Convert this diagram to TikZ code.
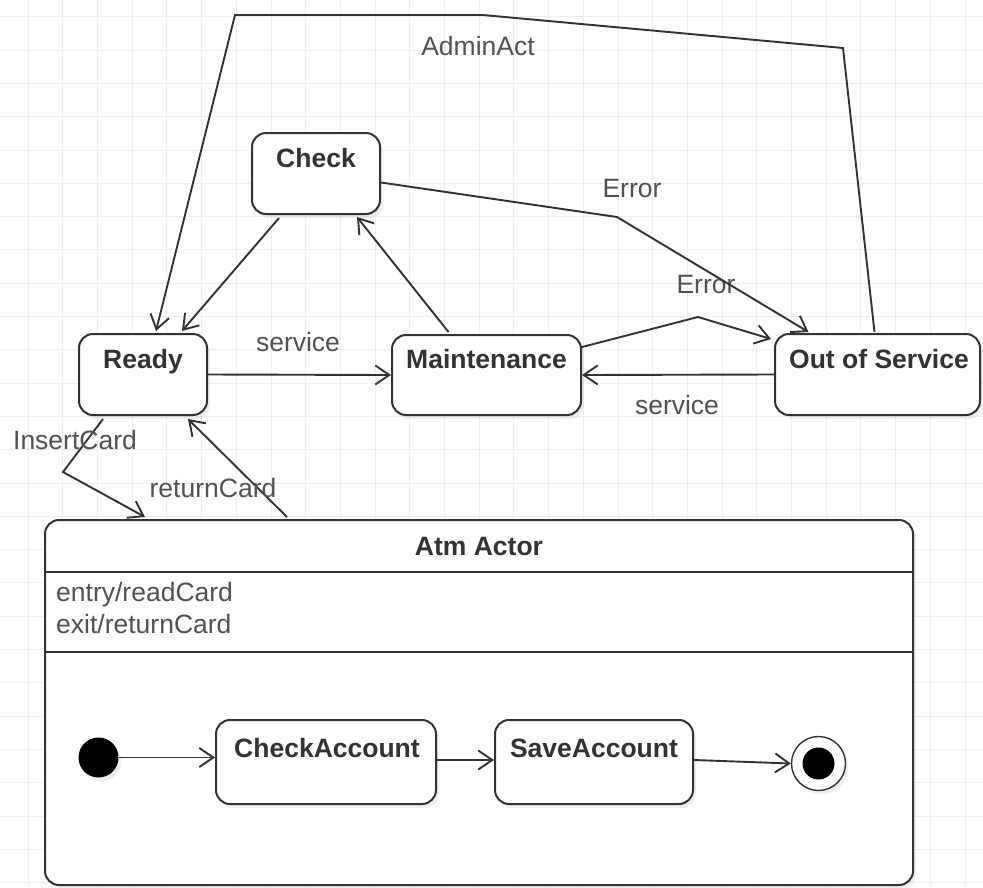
\documentclass[tikz,border=0pt]{standalone}
\usepackage{fontspec}
\setmainfont{Liberation Sans}
\usetikzlibrary{arrows.meta,shadows,calc}
\definecolor{ln}{HTML}{333333}
\definecolor{gridc}{HTML}{EFEFEF}
\begin{document}
\begin{tikzpicture}[x=1pt,y=-1pt,
  statebox/.style={draw=ln, line width=2pt, rounded corners=14pt, fill=white,
    drop shadow={shadow xshift=3pt,shadow yshift=-4pt,opacity=0.12}, inner sep=0pt},
  ttl/.style={font=\fontsize{26.5}{30}\selectfont\bfseries, text=ln, anchor=base, inner sep=0pt},
  lbl/.style={font=\fontsize{26.5}{30}\selectfont, text=ln!85, inner sep=0pt},
  tr/.style={draw=ln, line width=1.9pt, -{Straight Barb[length=14pt,width=19pt]}},
]
\useasboundingbox (0,0) rectangle (983,887);
\fill[white] (0,0) rectangle (983,887);
% grid
\foreach \i in {0,...,27} \draw[gridc, line width=0.8pt] (28+34.7*\i,0) -- (28+34.7*\i,887);
\foreach \j in {0,...,26} \draw[gridc, line width=0.8pt] (0,16.7+33.3*\j) -- (983,16.7+33.3*\j);

% states
\node[statebox, minimum width=128pt, minimum height=81pt] (check) at (316,173.5) {};
\node[ttl] (checkT) at (316,167) {Check};
\node[statebox, minimum width=128pt, minimum height=81pt] (ready) at (143,374.5) {};
\node[ttl] (readyT) at (143,368) {Ready};
\node[statebox, minimum width=189pt, minimum height=80pt] (maint) at (486.5,375) {};
\node[ttl] (maintT) at (486.5,368) {Maintenance};
\node[statebox, minimum width=205pt, minimum height=81pt] (oos) at (877.5,374.5) {};
\node[ttl] (oosT) at (879,368) {Out of Service};

% composite state
\node[statebox, minimum width=868pt, minimum height=365pt] (atm) at (479,702.5) {};
\node[ttl] (atmT) at (479,555) {Atm Actor};
\draw[draw=ln, line width=2pt] (atm.west |- 0,572) -- (atm.east |- 0,572);
\draw[draw=ln, line width=2pt] (atm.west |- 0,652) -- (atm.east |- 0,652);
\node[lbl, anchor=base west] (entryT) at (56,601) {entry/readCard};
\node[lbl, anchor=base west] (exitT) at (56,633) {exit/returnCard};

\node[circle, fill=black, minimum size=40pt, inner sep=0pt,
  drop shadow={shadow xshift=3pt,shadow yshift=-4pt,opacity=0.12}] (init) at (98.5,757.5) {};
\node[statebox, minimum width=220pt, minimum height=84pt] (ca) at (326,762) {};
\node[ttl] (caT) at (327,757) {CheckAccount};
\node[statebox, minimum width=198pt, minimum height=84pt] (sa) at (594,762) {};
\node[ttl] (saT) at (594,757) {SaveAccount};
\node[circle, draw=ln, line width=1.4pt, fill=white, minimum size=54pt, inner sep=0pt,
  drop shadow={shadow xshift=3pt,shadow yshift=-4pt,opacity=0.12}] (fin) at (818.5,763.5) {};
\node[circle, fill=black, minimum size=32pt, inner sep=0pt] (finIn) at (fin.center) {};

% transitions
\draw[tr] (ready.east) -- (maint.west);
\node[lbl] (svc1) at (298,342) {service};
\draw[tr] (oos.west) -- (maint.east);
\node[lbl] (svc2) at (677,405) {service};

\draw[tr] ($(maint.east)+(0,-28)$) -- (698,317) -- ($(oos.north west)+(-3,6)$);
\node[lbl] (err2) at (706,285) {Error};
\draw[tr] ($(check.east)+(0,9)$) -- (617,217) -- ($(oos.north)+(-69,-1)$);
\node[lbl] (err1) at (632,189) {Error};

\draw[tr] ($(check.south)+(-37,3)$) -- ($(ready.north)+(39,-2)$);
\draw[tr] ($(maint.north)+(-38,-2)$) -- ($(check.south)+(41,2)$);

\draw[tr] ($(oos.north)+(-3,-1)$) -- (843,48) -- (483,15) -- (235,15) -- ($(ready.north)+(13,-2)$);
\node[lbl] (admin) at (478,46) {AdminAct};

\draw[tr] ($(ready.south)+(-40,3)$) -- (63,472) -- ($(atm.north)+(-334,-2)$);
\node[lbl] (ins) at (75,440) {InsertCard};
\draw[tr] ($(atm.north)+(-192,-2)$) -- ($(ready.south)+(45,3)$);
\node[lbl] (ret) at (213,488) {returnCard};

\draw[tr] (init.east) -- (init -| ca.west);
\draw[tr] ($(ca.east)+(0,-2)$) -- ($(sa.west)+(0,-2)$);
\draw[tr] ($(sa.east)+(0,-2)$) -- (fin.west);
\end{tikzpicture}
\end{document}
